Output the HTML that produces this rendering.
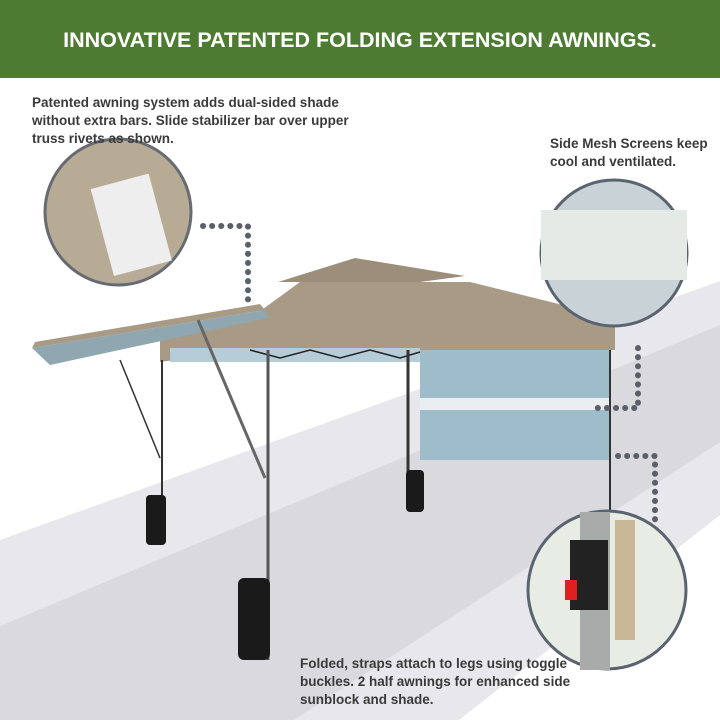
<!DOCTYPE html>
<html><head><meta charset="utf-8"><style>
body{margin:0;width:720px;height:720px;overflow:hidden;background:#fff;font-family:"Liberation Sans",sans-serif;position:relative}
.hdr{position:absolute;left:0;top:0;width:720px;height:78px;background:#4c7b31;color:#fff;font-weight:bold;font-size:21.5px;text-align:center;line-height:80px}
.t{position:absolute;color:#3a3a3a;font-weight:bold;font-size:13.5px;line-height:18px}
</style></head><body>
<svg width="720" height="720" style="position:absolute;left:0;top:0">
<polygon points="0,540 720,281 720,515 459,720 0,720" fill="#e8e8ec"/>
<polygon points="0,626 720,325 720,442 294,720 0,720" fill="#d9d9de"/>
<polygon points="248,320 300,282 470,282 615,318" fill="#a89a85"/>
<polygon points="278,282 355,258 465,276 420,282" fill="#9c8e7a"/>
<rect x="248" y="318" width="367" height="32" fill="#a89a85"/>
<polygon points="160,340 248,322 248,350 160,362" fill="#a89a85"/>
<rect x="170" y="348" width="250" height="14" fill="#b5cdd8"/>
<rect x="420" y="350" width="190" height="110" fill="#9fbccb"/>
<rect x="420" y="398" width="190" height="12" fill="#e9eef0"/>
<polyline points="250,350 280,358 310,350 340,358 370,350 400,358 420,352" fill="none" stroke="#222" stroke-width="1.5"/>
<polygon points="32,348 265,310 268,318 50,365" fill="#8fa7b0"/>
<polygon points="32,348 265,310 260,304 35,342" fill="#a89a85"/>
<line x1="268" y1="350" x2="268" y2="660" stroke="#555" stroke-width="3"/>
<line x1="408" y1="350" x2="408" y2="500" stroke="#333" stroke-width="3"/>
<line x1="610" y1="350" x2="610" y2="600" stroke="#333" stroke-width="2"/>
<line x1="162" y1="360" x2="162" y2="520" stroke="#333" stroke-width="2"/>
<line x1="198" y1="320" x2="265" y2="478" stroke="#666" stroke-width="3"/>
<line x1="120" y1="360" x2="160" y2="458" stroke="#333" stroke-width="1.5"/>
<rect x="146" y="495" width="20" height="50" rx="4" fill="#1a1a1a"/>
<rect x="406" y="470" width="18" height="42" rx="4" fill="#1a1a1a"/>
<rect x="238" y="578" width="32" height="82" rx="6" fill="#1a1a1a"/>
<polyline points="203,226 248,226 248,300" fill="none" stroke="#5a5f6a" stroke-width="6" stroke-dasharray="0.1 9" stroke-linecap="round"/>
<polyline points="638,348 638,408 595,408" fill="none" stroke="#5a5f6a" stroke-width="6" stroke-dasharray="0.1 9" stroke-linecap="round"/>
<polyline points="618,456 655,456 655,520" fill="none" stroke="#5a5f6a" stroke-width="6" stroke-dasharray="0.1 9" stroke-linecap="round"/>
<circle cx="118" cy="212" r="73" fill="#b7ab95" stroke="#666b73" stroke-width="3"/>
<rect x="100" y="180" width="60" height="90" fill="#eeeeee" transform="rotate(-15 130 220)"/>
<circle cx="614" cy="253" r="73" fill="#c9d2d6" stroke="#5a6370" stroke-width="3"/>
<rect x="541" y="210" width="146" height="70" fill="#e4ebe7"/>
<circle cx="607" cy="590" r="79" fill="#e7ece4" stroke="#5a6370" stroke-width="3"/>
<rect x="580" y="512" width="30" height="158" fill="#a9abab"/>
<rect x="570" y="540" width="38" height="70" fill="#222"/>
<rect x="565" y="580" width="12" height="20" fill="#e02020"/>
<rect x="615" y="520" width="20" height="120" fill="#c8b898"/>
</svg>
<div class="hdr">INNOVATIVE PATENTED FOLDING EXTENSION AWNINGS.</div>
<div class="t" style="left:32px;top:94px">Patented awning system adds dual-sided shade<br>without extra bars. Slide stabilizer bar over upper<br>truss rivets as shown.</div>
<div class="t" style="left:550px;top:135px">Side Mesh Screens keep<br>cool and ventilated.</div>
<div class="t" style="left:300px;top:655px">Folded, straps attach to legs using toggle<br>buckles. 2 half awnings for enhanced side<br>sunblock and shade.</div>
</body></html>
